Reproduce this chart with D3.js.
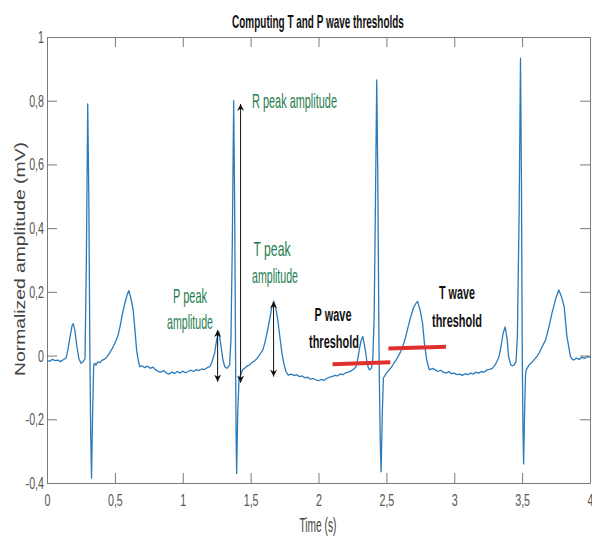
<!DOCTYPE html>
<html>
<head>
<meta charset="utf-8">
<title>Computing T and P wave thresholds</title>
<script src="https://d3js.org/d3.v7.min.js"></script>
<style>
  body { margin: 0; background: #fff; }
  svg { display: block; font-family: "Liberation Sans", Arial, sans-serif; }
</style>
</head>
<body>
<div id="chart"></div>
<script>
// ECG trace: [time (s), normalized amplitude (mV)]
const ecg = [
  [0.00,-0.015],[0.02,-0.018],[0.04,-0.012],[0.06,-0.016],[0.08,-0.014],[0.10,-0.019],[0.12,-0.013],
  [0.14,-0.008],[0.155,0.02],[0.17,0.06],[0.185,0.095],[0.193,0.10],[0.205,0.08],[0.22,0.03],
  [0.235,-0.01],[0.25,-0.024],[0.265,-0.02],[0.28,-0.01],[0.29,0.30],[0.30,0.79],[0.308,0.50],
  [0.316,0.0],[0.322,-0.25],[0.328,-0.385],[0.336,-0.18],[0.344,-0.03],[0.352,-0.024],[0.36,-0.03],
  [0.375,-0.02],[0.39,-0.022],[0.405,-0.015],[0.42,-0.012],[0.44,-0.005],[0.46,0.008],[0.475,0.018],
  [0.49,0.03],[0.51,0.048],[0.524,0.065],[0.54,0.095],[0.555,0.13],[0.574,0.165],[0.59,0.19],
  [0.603,0.204],[0.615,0.185],[0.625,0.165],[0.635,0.143],[0.648,0.08],[0.66,0.018],[0.672,-0.015],
  [0.684,-0.035],[0.70,-0.032],[0.72,-0.038],[0.74,-0.033],[0.76,-0.04],[0.78,-0.036],[0.80,-0.045],
  [0.82,-0.05],[0.84,-0.052],[0.86,-0.047],[0.88,-0.055],[0.90,-0.058],[0.92,-0.052],[0.94,-0.056],
  [0.96,-0.05],[0.98,-0.055],[1.00,-0.049],[1.02,-0.054],[1.04,-0.05],[1.06,-0.046],[1.08,-0.05],
  [1.10,-0.044],[1.12,-0.047],[1.14,-0.042],[1.16,-0.044],[1.18,-0.038],[1.20,-0.035],[1.215,-0.02],
  [1.235,0.008],[1.25,0.05],[1.265,0.075],[1.28,0.035],[1.296,-0.014],[1.31,-0.035],[1.325,-0.04],
  [1.345,-0.03],[1.355,0.05],[1.365,0.35],[1.375,0.80],[1.382,0.50],[1.389,0.0],[1.393,-0.25],
  [1.397,-0.37],[1.405,-0.18],[1.415,-0.07],[1.425,-0.062],[1.44,-0.045],[1.46,-0.038],[1.475,-0.032],
  [1.49,-0.03],[1.51,-0.022],[1.53,-0.016],[1.545,-0.01],[1.56,-0.002],[1.575,0.008],[1.59,0.018],
  [1.605,0.04],[1.62,0.07],[1.64,0.112],[1.655,0.15],[1.67,0.17],[1.685,0.15],[1.70,0.112],
  [1.715,0.06],[1.73,0.01],[1.745,-0.025],[1.76,-0.05],[1.776,-0.061],[1.80,-0.058],[1.82,-0.063],
  [1.84,-0.06],[1.86,-0.066],[1.88,-0.064],[1.90,-0.07],[1.92,-0.068],[1.94,-0.074],[1.96,-0.072],
  [1.98,-0.076],[2.00,-0.079],[2.02,-0.075],[2.04,-0.078],[2.06,-0.072],[2.08,-0.068],[2.10,-0.066],
  [2.12,-0.062],[2.14,-0.064],[2.16,-0.058],[2.18,-0.06],[2.20,-0.054],[2.22,-0.052],[2.24,-0.048],
  [2.26,-0.042],[2.277,-0.035],[2.29,-0.01],[2.30,0.018],[2.313,0.045],[2.326,0.06],[2.34,0.03],
  [2.355,-0.014],[2.365,-0.035],[2.375,-0.045],[2.39,-0.04],[2.40,-0.01],[2.41,0.12],[2.42,0.50],
  [2.429,0.865],[2.437,0.55],[2.446,0.0],[2.454,-0.25],[2.461,-0.365],[2.47,-0.18],[2.478,-0.07],
  [2.485,-0.066],[2.50,-0.055],[2.52,-0.045],[2.54,-0.035],[2.555,-0.024],[2.571,-0.014],[2.59,0.0],
  [2.605,0.012],[2.62,0.028],[2.64,0.055],[2.66,0.09],[2.68,0.122],[2.70,0.15],[2.715,0.162],
  [2.73,0.17],[2.75,0.14],[2.767,0.10],[2.78,0.04],[2.797,-0.014],[2.816,-0.045],[2.84,-0.04],
  [2.86,-0.045],[2.88,-0.05],[2.90,-0.046],[2.92,-0.052],[2.94,-0.055],[2.96,-0.05],[2.98,-0.057],
  [3.00,-0.055],[3.02,-0.06],[3.04,-0.058],[3.06,-0.062],[3.08,-0.057],[3.10,-0.06],[3.12,-0.055],
  [3.14,-0.058],[3.16,-0.052],[3.18,-0.055],[3.20,-0.05],[3.22,-0.052],[3.24,-0.045],[3.26,-0.043],
  [3.28,-0.04],[3.30,-0.03],[3.315,-0.018],[3.33,-0.003],[3.345,0.03],[3.36,0.07],[3.375,0.09],
  [3.39,0.05],[3.40,-0.003],[3.417,-0.03],[3.43,-0.032],[3.44,-0.03],[3.455,-0.02],[3.465,0.06],
  [3.478,0.45],[3.488,0.934],[3.495,0.55],[3.501,0.0],[3.506,-0.22],[3.511,-0.34],[3.518,-0.18],
  [3.525,-0.06],[3.53,-0.045],[3.55,-0.03],[3.57,-0.022],[3.59,-0.012],[3.61,-0.002],[3.625,0.008],
  [3.65,0.03],[3.674,0.05],[3.70,0.095],[3.72,0.133],[3.745,0.175],[3.77,0.206],[3.79,0.185],
  [3.81,0.153],[3.83,0.06],[3.856,-0.003],[3.87,-0.012],[3.88,-0.014],[3.90,-0.008],[3.92,-0.012],
  [3.94,-0.005],[3.96,-0.009],[3.98,-0.003],[4.00,-0.006]
];

const xTicks = [0, 0.5, 1, 1.5, 2, 2.5, 3, 3.5, 4];
const yTicks = [-0.4, -0.2, 0, 0.2, 0.4, 0.6, 0.8, 1];

// threshold segments (red)
const pThrTime = [2.103, 2.529];
const pThrAmp  = [-0.027, -0.021];
const tThrTime = [2.515, 2.939];
const tThrAmp  = [0.022, 0.028];

// double-headed amplitude arrows: P, R, T
const arrowTime   = [1.257, 1.426, 1.669];
const arrowTop    = [0.08, 0.79, 0.17];
const arrowBottom = [-0.082, -0.085, -0.066];

const W = 592, H = 537;
const margin = {top: 37, right: 2, bottom: 54, left: 47};
const w = W - margin.left - margin.right;
const h = H - margin.top - margin.bottom;

const svg = d3.select("#chart").append("svg")
    .attr("width", W).attr("height", H);

const defs = svg.append("defs");
defs.append("marker")
    .attr("id", "head")
    .attr("viewBox", "0 0 10 10")
    .attr("refX", 10).attr("refY", 5)
    .attr("markerUnits", "userSpaceOnUse")
    .attr("markerWidth", 9).attr("markerHeight", 7)
    .attr("orient", "auto-start-reverse")
  .append("path")
    .attr("d", "M0,0 L10,5 L0,10 L3,5 z")
    .attr("fill", "#111");

const g = svg.append("g")
    .attr("transform", "translate(" + margin.left + "," + margin.top + ")");

const x = d3.scaleLinear().domain([0, 4]).range([0, w]);
const y = d3.scaleLinear().domain([-0.4, 1]).range([h, 0]);

const fmt = d => String(d).replace(".", ",");
const SX = 0.63; // labels in the figure are horizontally squeezed

// axes with inward ticks, mirrored on top and right
const axisColor = "#7a7a7a";
function styleAxis(sel) {
    sel.select(".domain").attr("stroke", axisColor);
    sel.selectAll(".tick line").attr("stroke", axisColor);
    sel.selectAll("text").attr("fill", "#555").attr("font-size", 17);
}

g.append("g")
    .attr("transform", "translate(0," + h + ")")
    .call(d3.axisBottom(x).tickValues(xTicks).tickFormat(fmt).tickSizeInner(-10).tickSizeOuter(0).tickPadding(11))
    .call(styleAxis)
    .selectAll("text").attr("transform", "scale(" + SX + ",1)");

g.append("g")
    .call(d3.axisLeft(y).tickValues(yTicks).tickFormat(fmt).tickSizeInner(-10).tickSizeOuter(0).tickPadding(3))
    .call(styleAxis)
    .selectAll("text")
    .attr("x", -3 / SX)
    .attr("transform", "scale(" + SX + ",1)");

g.append("g")
    .call(d3.axisTop(x).tickValues(xTicks).tickFormat("").tickSizeInner(-10).tickSizeOuter(0))
    .call(styleAxis);

g.append("g")
    .attr("transform", "translate(" + w + ",0)")
    .call(d3.axisRight(y).tickValues(yTicks).tickFormat("").tickSizeInner(-10).tickSizeOuter(0))
    .call(styleAxis);

// ECG line
const line = d3.line()
    .x(d => x(d[0]))
    .y(d => y(d[1]));

g.append("path")
    .datum(ecg)
    .attr("fill", "none")
    .attr("stroke", "#2b7bba")
    .attr("stroke-width", 1.3)
    .attr("stroke-linejoin", "round")
    .attr("d", line);

// threshold segments
[[pThrTime, pThrAmp], [tThrTime, tThrAmp]].forEach(function(s) {
    g.append("line")
        .attr("x1", x(s[0][0])).attr("y1", y(s[1][0]))
        .attr("x2", x(s[0][1])).attr("y2", y(s[1][1]))
        .attr("stroke", "#e0302c")
        .attr("stroke-width", 4);
});

// amplitude arrows
arrowTime.forEach(function(t, i) {
    g.append("line")
        .attr("x1", x(t)).attr("y1", y(arrowBottom[i]))
        .attr("x2", x(t)).attr("y2", y(arrowTop[i]))
        .attr("stroke", "#111")
        .attr("stroke-width", 1)
        .attr("marker-start", "url(#head)")
        .attr("marker-end", "url(#head)");
});

// text helper: squeezes the text to a target width
function label(txt, px, py, opts) {
    const t = svg.append("text")
        .attr("font-size", opts.size || 19)
        .attr("font-weight", opts.bold ? "bold" : "normal")
        .attr("fill", opts.color || "#111")
        .attr("text-anchor", opts.anchor || "middle")
        .text(txt);
    const len = t.node().getComputedTextLength();
    const s = opts.width ? opts.width / len : SX;
    const rot = opts.rotate ? " rotate(" + opts.rotate + ")" : "";
    t.attr("transform", "translate(" + px + "," + py + ")" + rot + " scale(" + s + ",1)");
    return t;
}

const green = "#1f7d4f";

label("Computing T and P wave thresholds", 318, 28, {bold: true, width: 172, size: 18});
label("Time (s)", 318, 532, {color: "#444", width: 37, size: 20});
label("Normalized amplitude (mV)", 25, 259, {color: "#444", rotate: -90, width: 234, size: 14});

label("R peak amplitude", 252, 108, {color: green, anchor: "start", width: 85, size: 20});
label("T peak", 272, 256, {color: green, width: 37, size: 20});
label("amplitude", 275, 283, {color: green, width: 46, size: 20});
label("P peak", 190, 303, {color: green, width: 34, size: 20});
label("amplitude", 190, 329, {color: green, width: 46, size: 20});
label("P wave", 333, 321, {bold: true, width: 37, size: 19});
label("threshold", 334, 348, {bold: true, width: 50, size: 19});
label("T wave", 457, 299, {bold: true, width: 36, size: 19});
label("threshold", 457, 327, {bold: true, width: 50, size: 19});
</script>
</body>
</html>
